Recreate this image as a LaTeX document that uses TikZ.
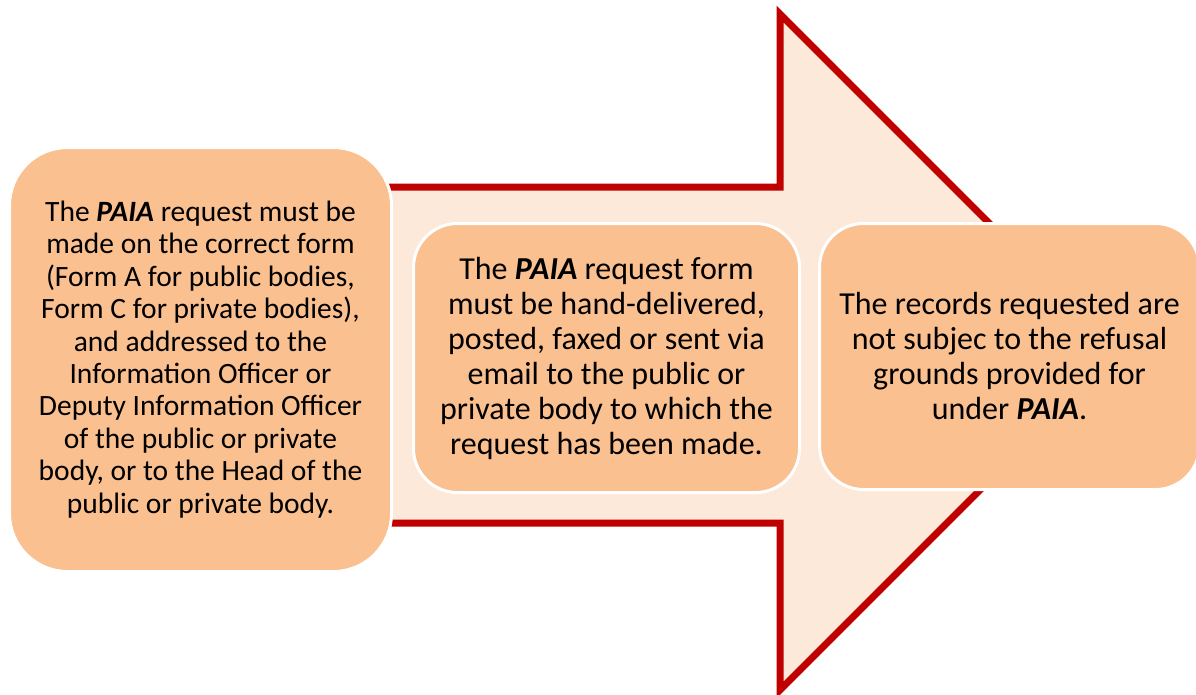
\documentclass[tikz,border=0pt]{standalone}
\usepackage{fontspec}
\setmainfont{Carlito}
\definecolor{arrowred}{HTML}{C00000}
\definecolor{arrowfill}{HTML}{FDE9DA}
\definecolor{boxfill}{HTML}{FAC090}
\tikzset{
  stepbox/.style={draw=white, line width=3pt, fill=boxfill, align=center,
    text=black, inner sep=0pt, anchor=north west},
  smalltext/.style={font=\fontsize{29.5}{32.4}\selectfont},
  bigtext/.style={font=\fontsize{32}{35}\selectfont},
}
\newcommand{\paia}{\textbf{\textit{PAIA}}}
\begin{document}
\begin{tikzpicture}[x=1pt,y=-1pt]
\useasboundingbox (0,0) rectangle (1196,694);
% big arrow
\draw[arrowred, line width=7pt, fill=arrowfill, line join=miter]
  (300,187) -- (780,187) -- (780,14) -- (1118,352) -- (780,690) -- (780,523) -- (300,523) -- cycle;
% boxes
\node[stepbox, rounded corners=58pt, minimum width=382pt, minimum height=424pt, smalltext] (box1) at (8,146)
  {The \paia{} request must be\\made on the correct form\\(Form A for public bodies,\\Form C for private bodies),\\and addressed to the\\Information Officer or\\Deputy Information Officer\\of the public or private\\body, or to the Head of the\\public or private body.};
\node[stepbox, rounded corners=44pt, minimum width=386pt, minimum height=269pt, bigtext] (box2) at (412,222)
  {The \paia{} request form\\must be hand-delivered,\\posted, faxed or sent via\\email to the public or\\private body to which the\\request has been made.};
\node[stepbox, rounded corners=44pt, minimum width=380pt, minimum height=266pt, bigtext] (box3) at (818,222)
  {The records requested are\\not subjec to the refusal\\grounds provided for\\under \paia.};
\end{tikzpicture}
\end{document}
